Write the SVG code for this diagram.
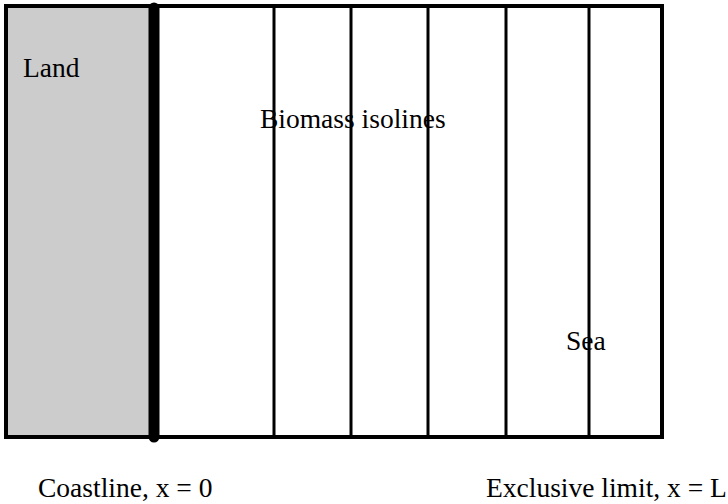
<svg xmlns="http://www.w3.org/2000/svg" width="728" height="504" viewBox="0 0 728 504">
<style>
text{font-family:'Liberation Serif','Times New Roman',serif;font-size:27.5px;fill:#000}
.iso{stroke:#000;stroke-width:3;fill:none}
</style>
<rect width="728" height="504" fill="#fff"/>
<g id="land">
<rect x="6" y="6" width="148" height="431" fill="#cccccc"/>
<text x="23" y="77">Land</text>
</g>
<g id="sea">
<rect x="6" y="6" width="656" height="431" fill="none" stroke="#000" stroke-width="4"/>
<text x="566" y="350">Sea</text>
</g>
<g id="connectors">
<line class="iso" x1="274" y1="6" x2="274" y2="437"/>
<line class="iso" x1="351" y1="6" x2="351" y2="437"/>
<line class="iso" x1="428" y1="6" x2="428" y2="437"/>
<line class="iso" x1="506" y1="6" x2="506" y2="437"/>
<line class="iso" x1="589" y1="6" x2="589" y2="437"/>
<line x1="154" y1="8" x2="154" y2="437" stroke="#000" stroke-width="11" stroke-linecap="round"/>
</g>
<g id="biomass">
<text x="260" y="128">Biomass isolines</text>
</g>
<g id="coastline">
<text x="38" y="497">Coastline, x = 0</text>
</g>
<g id="limit">
<text x="486" y="497">Exclusive limit, x = L</text>
</g>
</svg>
